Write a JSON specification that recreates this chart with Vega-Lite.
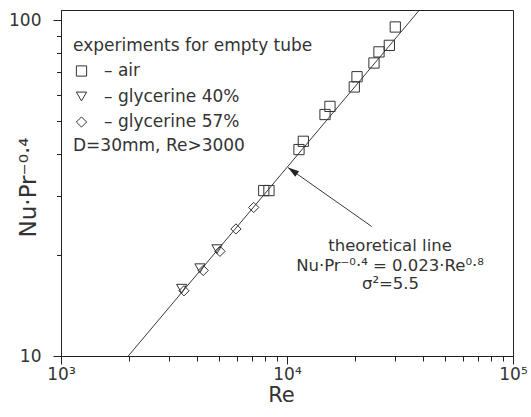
{
  "$schema": "https://vega.github.io/schema/vega-lite/v6.json",
  "width": 452,
  "height": 346,
  "autosize": {"type": "none"},
  "padding": {"left": 61, "top": 10, "right": 18, "bottom": 61},
  "background": "white",
  "config": {
    "view": {"stroke": "#222", "strokeWidth": 1},
    "font": "DejaVu Sans",
    "axis": {
      "grid": false,
      "domainColor": "#222",
      "tickColor": "#222",
      "labelFont": "DejaVu Sans",
      "labelFontSize": 17,
      "labelColor": "#333",
      "titleFont": "DejaVu Sans",
      "titleFontSize": 20,
      "titleFontWeight": "normal",
      "titleColor": "#333",
      "labelOverlap": false,
      "labelFlush": false
    },
    "legend": {
      "titleFont": "DejaVu Sans",
      "titleFontSize": 17,
      "titleFontWeight": "normal",
      "titleColor": "#333",
      "titleLimit": 500,
      "labelFont": "DejaVu Sans",
      "labelFontSize": 17,
      "labelColor": "#333",
      "labelLimit": 400
    }
  },
  "datasets": {
    "measurements": [
      {"fluid": "air", "Re": 7890, "v": 31.1},
      {"fluid": "air", "Re": 8320, "v": 31.1},
      {"fluid": "air", "Re": 11300, "v": 41.2},
      {"fluid": "air", "Re": 11810, "v": 43.6},
      {"fluid": "air", "Re": 14730, "v": 52.4},
      {"fluid": "air", "Re": 15490, "v": 55.4},
      {"fluid": "air", "Re": 19850, "v": 63.3},
      {"fluid": "air", "Re": 20410, "v": 67.9},
      {"fluid": "air", "Re": 24260, "v": 74.6},
      {"fluid": "air", "Re": 25530, "v": 80.5},
      {"fluid": "air", "Re": 28370, "v": 84.2},
      {"fluid": "air", "Re": 30140, "v": 95.5},
      {"fluid": "glycerine 40%", "Re": 3420, "v": 15.86},
      {"fluid": "glycerine 40%", "Re": 4120, "v": 18.25},
      {"fluid": "glycerine 40%", "Re": 4900, "v": 20.8},
      {"fluid": "glycerine 57%", "Re": 3500, "v": 15.64},
      {"fluid": "glycerine 57%", "Re": 4260, "v": 17.98},
      {"fluid": "glycerine 57%", "Re": 5050, "v": 20.5},
      {"fluid": "glycerine 57%", "Re": 5945, "v": 23.9},
      {"fluid": "glycerine 57%", "Re": 7120, "v": 27.7}
    ],
    "theory": [
      {"Re": 1985, "v": 10},
      {"Re": 38550, "v": 107.3}
    ],
    "pointer": [
      {"Re": 10102, "v": 36.4, "Re2": 23710, "v2": 24.3}
    ],
    "formula": [
      {"Re": 28570, "v": 20.49, "t": "theoretical line"},
      {"Re": 28570, "v": 17.95, "t": "Nu·Pr⁻⁰·⁴  =  0.023·Re⁰·⁸"},
      {"Re": 28700, "v": 15.85, "t": "σ²=5.5"}
    ],
    "conditions": [
      {"Re": 1130, "v": 40.7, "t": "D=30mm, Re>3000"}
    ]
  },
  "encoding": {
    "x": {
      "field": "Re",
      "type": "quantitative",
      "scale": {"type": "log", "domain": [1000, 100000], "nice": false},
      "axis": {
        "title": "Re",
        "titleFontSize": 21,
        "titleX": 220,
        "titleY": 45,
        "titleBaseline": "alphabetic",
        "values": [1000, 2000, 3000, 4000, 5000, 6000, 7000, 8000, 9000, 10000, 20000, 30000, 40000, 50000, 60000, 70000, 80000, 90000, 100000],
        "labelExpr": "datum.value == 1000 ? '10³' : datum.value == 10000 ? '10⁴' : datum.value == 100000 ? '10⁵' : ''",
        "tickSize": {"condition": {"test": "datum.value == 1000 || datum.value == 10000 || datum.value == 100000", "value": 8}, "value": 5},
        "labelPadding": 2
      }
    },
    "y": {
      "field": "v",
      "type": "quantitative",
      "scale": {"type": "log", "domain": [10, 107.3], "nice": false},
      "axis": {
        "title": "Nu·Pr⁻⁰·⁴",
        "titleFontSize": 23,
        "titleX": -26,
        "titleY": 177,
        "titleBaseline": "alphabetic",
        "values": [10, 20, 30, 40, 50, 60, 70, 80, 90, 100],
        "labelExpr": "datum.value == 10 ? '10' : datum.value == 100 ? '100' : ''",
        "tickSize": {"condition": {"test": "datum.value == 10 || datum.value == 100", "value": 8}, "value": 4.5},
        "labelPadding": 12
      }
    }
  },
  "layer": [
    {
      "data": {"name": "theory"},
      "mark": {"type": "line", "color": "#222", "strokeWidth": 0.9, "clip": true}
    },
    {
      "data": {"name": "measurements"},
      "mark": {"type": "point", "filled": false, "color": "#333", "strokeWidth": 1, "size": 105, "opacity": 1},
      "encoding": {
        "shape": {
          "field": "fluid",
          "type": "nominal",
          "scale": {"domain": ["air", "glycerine 40%", "glycerine 57%"], "range": ["square", "triangle-down", "diamond"]},
          "legend": {
            "title": "experiments for empty tube",
            "orient": "none",
            "legendX": 12,
            "legendY": 28,
            "labelExpr": "'– ' + datum.label",
            "rowPadding": 7.5,
            "titlePadding": 7.5,
            "labelOffset": 14,
            "symbolSize": 105,
            "symbolStrokeWidth": 1,
            "symbolStrokeColor": "#333",
            "symbolFillColor": "transparent"
          }
        }
      }
    },
    {
      "data": {"name": "pointer"},
      "mark": {"type": "rule", "color": "#222", "strokeWidth": 0.9},
      "encoding": {
        "x2": {"field": "Re2"},
        "y2": {"field": "v2"}
      }
    },
    {
      "data": {"name": "pointer"},
      "mark": {"type": "point", "shape": "M0,0L-0.3,1L0.3,1Z", "filled": true, "color": "#222", "size": 500, "angle": 305, "opacity": 1}
    },
    {
      "data": {"name": "formula"},
      "mark": {"type": "text", "font": "DejaVu Sans", "fontSize": 16.5, "color": "#333", "baseline": "alphabetic", "align": "center"},
      "encoding": {"text": {"field": "t"}}
    },
    {
      "data": {"name": "conditions"},
      "mark": {"type": "text", "font": "DejaVu Sans", "fontSize": 17, "color": "#333", "baseline": "alphabetic", "align": "left"},
      "encoding": {"text": {"field": "t"}}
    }
  ]
}
